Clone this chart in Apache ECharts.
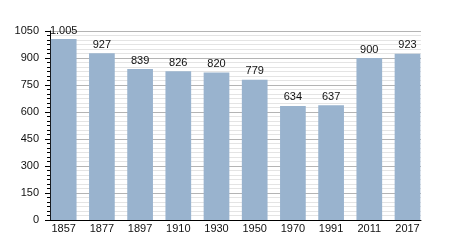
<!DOCTYPE html>
<html>
<head>
<meta charset="utf-8">
<script src="https://cdn.jsdelivr.net/npm/echarts@6/dist/echarts.min.js"></script>
<style>
html,body{margin:0;padding:0;background:#fff;}
#chart{width:450px;height:250px;}
</style>
</head>
<body>
<div id="chart"></div>
<script>
var years = ['1857','1877','1897','1910','1930','1950','1970','1991','2011','2017'];
var population = [1005, 927, 839, 826, 820, 779, 634, 637, 900, 923];
var yTicks = [0, 150, 300, 450, 600, 750, 900, 1050];

function fmt(v){
  return String(v).replace(/\B(?=(\d{3})+(?!\d))/g, '.');
}

var chart = echarts.init(document.getElementById('chart'), null, {renderer:'canvas'});
var font = 'Liberation Sans, Arial, sans-serif';
chart.setOption({
  animation:false,
  backgroundColor:'#ffffff',
  grid:[
    {left:44.6, right:23.4, top:31, bottom:30, containLabel:false},
    {left:50, right:29, top:31, bottom:30, containLabel:false}
  ],
  xAxis:[
    {type:'category', gridIndex:0, data:years,
     axisLine:{show:false}, axisTick:{show:false},
     axisLabel:{color:'#111', fontFamily:font, fontSize:11, margin:3}},
    {type:'category', gridIndex:1, data:years,
     axisLine:{show:true, lineStyle:{color:'#000', width:1}},
     axisTick:{show:false}, axisLabel:{show:false}, splitLine:{show:false}}
  ],
  yAxis:[
    {type:'value', gridIndex:0, min:0, max:1050, interval:150, show:false},
    {type:'value', gridIndex:1, min:yTicks[0], max:yTicks[yTicks.length-1], interval:150,
     axisLine:{show:true, lineStyle:{color:'#000', width:1}},
     axisTick:{show:true, length:5, inside:false, lineStyle:{color:'#000'}},
     minorTick:{show:true, splitNumber:6, length:3, lineStyle:{color:'#000'}},
     axisLabel:{color:'#111', fontFamily:font, fontSize:11, margin:11,
       formatter:function(v){return String(v);}},
     splitLine:{show:true, lineStyle:{color:'#b4b4b4', width:1}},
     minorSplitLine:{show:true, lineStyle:{color:'#e4e4e4', width:1}}}
  ],
  series:[{
    type:'bar', xAxisIndex:0, yAxisIndex:0,
    data:population,
    barWidth:25.7,
    itemStyle:{color:'#99b3ce'},
    label:{show:true, position:'top', distance:3, color:'#111',
      fontFamily:font, fontSize:11,
      formatter:function(p){return fmt(p.value);}},
    z:3
  }]
});
</script>
</body>
</html>
